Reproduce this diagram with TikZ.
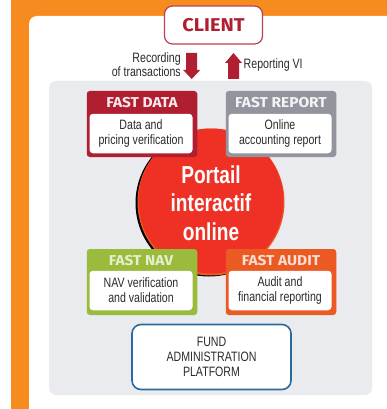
\documentclass[tikz,border=0pt]{standalone}
\usepackage{fontspec}
\setmainfont{Liberation Sans}
\newfontfamily\narrowf[FakeStretch=0.78]{Liberation Sans}
\newfontfamily\headf[FakeStretch=1.08]{Fira Sans}
\definecolor{orangebg}{HTML}{F68B1F}
\definecolor{panelgrey}{HTML}{E9EBEF}
\definecolor{wine}{HTML}{B01E32}
\definecolor{greyhead}{HTML}{92949E}
\definecolor{greenhead}{HTML}{9BBB3C}
\definecolor{orangehead}{HTML}{EC5A24}
\definecolor{bluefr}{HTML}{2A6A9E}
\definecolor{redball}{HTML}{EE3124}
\definecolor{textc}{HTML}{2B2B2B}
\tikzset{
 card/.style={rounded corners=3pt,minimum width=110.5pt,minimum height=66pt,inner sep=0pt},
 cardbody/.style={fill=white,rounded corners=3.5pt,minimum width=103pt,minimum height=39.5pt,inner sep=0pt,align=center,font=\narrowf\fontsize{13.6}{15}\selectfont,text=textc},
 cardhead/.style={font=\headf\bfseries\fontsize{14.3}{16}\selectfont,inner sep=0pt},
 lbl/.style={font=\narrowf\fontsize{13.6}{14.2}\selectfont,text=textc,inner sep=0pt},
 bigarrow/.style={fill=wine,draw=none},
}
\begin{document}
\begin{tikzpicture}[x=1pt,y=-1pt]
\useasboundingbox (0,0) rectangle (387,409);
\fill[white] (0,0) rectangle (387,409);
\fill[orangebg] (11,0) rectangle (387,409);
\fill[white] (29,405) [rounded corners=8pt] -- (29,16) -- (400,16) -- (400,420) -- (29,420) -- cycle;
\fill[white] (29,405) rectangle (387,409);
\fill[panelgrey,rounded corners=7pt] (49,81) rectangle (372,395);
% ball
\fill[black] (209,203) circle [radius=73.5pt];
\fill[orangehead] (211,202) circle [radius=73.5pt];
\node[circle,fill=redball,minimum size=145pt,inner sep=0pt] (ball) at (211,201) {};
\node[font=\narrowf\bfseries\fontsize{24.5}{28.5}\selectfont,text=white,align=center,inner sep=0pt] (balltext) at (211,203) {Portail\\interactif\\online};
% client
\node[draw=wine!85,line width=1.2pt,fill=white,rounded corners=8pt,minimum width=98pt,minimum height=38pt,inner sep=0pt,text=wine,font=\headf\bfseries\fontsize{18.5}{20}\selectfont] (client) at (213.5,25) {CLIENT};
% arrows
\coordinate (dn) at (191.7,79);
\coordinate (up) at (233.5,53);
\fill[bigarrow] (dn) -- ++(-8.5,-9) -- ++(3,0) -- ++(0,-17) -- ++(11,0) -- ++(0,17) -- ++(3,0) -- cycle;
\fill[bigarrow] (up) -- ++(8.5,10) -- ++(-3,0) -- ++(0,16) -- ++(-11,0) -- ++(0,-16) -- ++(-3,0) -- cycle;
\node[lbl,align=right,anchor=east] (rec) at (181,64.5) {Recording\\of transactions};
\node[lbl,anchor=west] (rep) at (243.5,64.5) {Reporting VI};
% cards
\node[card,fill=wine] (data) at (142,124) {};
\node[cardbody] (databody) at (141,133.5) {Data and\\pricing verification};
\node[cardhead,text=white!90!wine] at (142,103) {FAST DATA};
\node[card,fill=greyhead] (report) at (281,124) {};
\node[cardbody] (reportbody) at (280,133.5) {Online\\accounting report};
\node[cardhead,text=white!90!greyhead] at (281,103) {FAST REPORT};
\node[card,fill=greenhead] (nav) at (142,282) {};
\node[cardbody] (navbody) at (141,290.5) {NAV verification\\and validation};
\node[cardhead,text=white!75!greenhead] at (141,261) {FAST NAV};
\node[card,fill=orangehead] (audit) at (281,282) {};
\node[cardbody] (auditbody) at (280,290.5) {Audit and\\financial reporting};
\node[cardhead,text=white!80!orangehead] at (281,261) {FAST AUDIT};
% platform
\node[draw=bluefr,line width=1.6pt,fill=white,rounded corners=9pt,minimum width=159pt,minimum height=65pt,inner sep=0pt,align=center,text=textc,font=\narrowf\fontsize{13.6}{15}\selectfont] (platform) at (211.5,357) {FUND\\ADMINISTRATION\\PLATFORM};
\end{tikzpicture}
\end{document}
